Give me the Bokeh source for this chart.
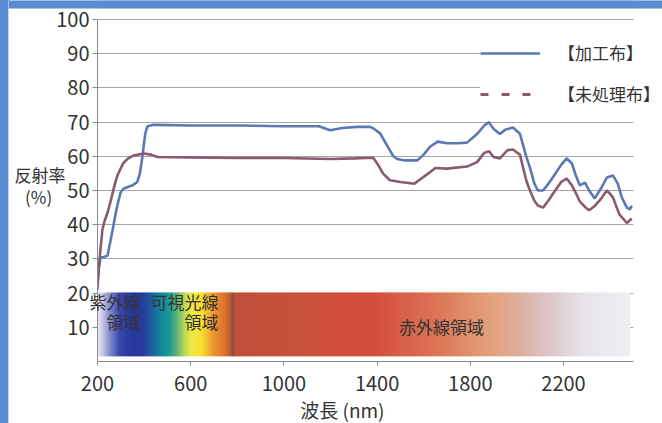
import numpy as np
from bokeh.plotting import figure
from bokeh.models import FixedTicker, Label, Legend, LegendItem, BoxAnnotation
from bokeh.embed import file_html
from bokeh.resources import INLINE

# ---------------- data ----------------
wl_treated = [200, 205, 213, 225, 243, 255, 269, 280, 290, 300, 311, 330, 350, 371, 382, 393,
              400, 406, 415, 440, 600, 800, 1000, 1150, 1199, 1250, 1314, 1370, 1383, 1413,
              1440, 1470, 1486, 1520, 1572, 1600, 1627, 1660, 1700, 1750, 1786, 1829, 1860,
              1880, 1900, 1927, 1950, 1983, 2013, 2040, 2056, 2075, 2090, 2112, 2130, 2154,
              2190, 2214, 2236, 2255, 2270, 2292, 2310, 2334, 2360, 2386, 2412, 2433, 2450,
              2472, 2485, 2493]
refl_treated = [21, 27, 30.5, 30.5, 31, 35, 40, 44, 47, 49.5, 50.5, 51, 51.5, 52.5, 55, 60,
                64, 67, 68.8, 69.2, 69, 69, 68.8, 68.8, 67.6, 68.3, 68.6, 68.6, 68.2, 66.7,
                63.5, 60, 59.2, 58.8, 58.8, 60.5, 62.8, 64.3, 63.8, 63.8, 64, 66.5, 69,
                70, 68, 66.5, 67.8, 68.4, 66.6, 60, 56.7, 52, 50, 50, 51.5, 53.8,
                57.5, 59.4, 57.9, 54, 51.5, 52.3, 50, 47.7, 50.5, 53.8, 54.4, 52, 48,
                45, 44.5, 45.6]

wl_untreated = [200, 208, 213, 221, 230, 243, 255, 264, 275, 286, 300, 311, 330, 354, 397, 430,
                457, 600, 800, 1000, 1200, 1300, 1383, 1400, 1425, 1455, 1500, 1560, 1590,
                1620, 1650, 1700, 1786, 1829, 1860, 1880, 1900, 1927, 1960, 1983, 2013, 2040,
                2056, 2075, 2090, 2112, 2135, 2154, 2190, 2214, 2236, 2255, 2270, 2292, 2310,
                2334, 2360, 2386, 2400, 2412, 2440, 2472, 2493]
refl_untreated = [23, 29, 33, 38.5, 41, 43.5, 46.5, 49, 52, 54.5, 56.5, 58, 59.3, 60.2, 60.8, 60.5,
                  59.8, 59.7, 59.5, 59.5, 59.2, 59.4, 59.6, 58, 55, 53, 52.5, 52, 53.5,
                  55, 56.6, 56.4, 57, 58.3, 61, 61.5, 59.8, 59.4, 61.8, 62, 60.5, 53,
                  50, 47, 45.6, 45, 47, 49, 52.5, 53.5, 51.5, 49, 46.8, 45.2, 44.2,
                  45.5, 47.5, 50, 49, 48, 43, 40.5, 41.8]

series_names = ["【加工布】", "【未処理布】"]
x_ticks = [200, 600, 1000, 1400, 1800, 2200]
y_ticks = [10, 20, 30, 40, 50, 60, 70, 80, 90, 100]
x_bounds = (200, 2500)
y_bounds = (0, 100)

# spectrum band decoration (wavelength stops and colours)
band_nm = [200, 217, 239, 264, 290, 342, 393, 427, 462, 505, 539, 569, 599, 642, 676, 711,
           754, 771, 779, 788, 1071, 1372, 1500, 1672, 1801, 1908, 2015, 2144, 2273, 2487]
band_colors = ["#e8e8f4", "#c8cce8", "#9aa0d6", "#6874c4", "#3a48aa", "#28389c", "#283c98",
               "#1d5aa0", "#10809e", "#1a9a94", "#60b47a", "#b8d858", "#f0e848", "#f8e030",
               "#f4b030", "#ec8c30", "#d86a2c", "#b45838", "#8c4a3c", "#c0503a", "#c8503a",
               "#d44a38", "#d86048", "#dc7858", "#e0946e", "#e2a584", "#dcb0a0", "#dcc8cc",
               "#e8e2ea", "#f0eff5"]
band_bottom, band_top = 1.5, 20.2

region_labels = [("紫外線", 385, 17.5, "right"), ("領域", 385, 11.6, "right"),
                 ("可視光線", 719, 17.5, "right"), ("領域", 719, 11.6, "right"),
                 ("赤外線領域", 1676, 10.2, "center")]

FONT = "Noto Sans CJK JP"
BLUE = "#5a78b4"
MAUVE = "#8a5a72"
TXT = "#333333"
AXIS = "#8a8a8a"
FRAME_BLUE = "#5b8bd0"

# frame fills the whole canvas; axes are pinned at x=200 / y=0
p = figure(width=654, height=423, x_range=(-181.97, 2624.9), y_range=(-18.13, 105.56),
           output_backend="svg", toolbar_location=None, min_border=0)
p.background_fill_color = "white"
p.border_fill_color = "white"
p.outline_line_color = None

p.xgrid.visible = False
p.ygrid.ticker = FixedTicker(ticks=y_ticks)
p.ygrid.grid_line_color = "#a4a4a4"
p.ygrid.grid_line_width = 1

for ax in (p.xaxis[0], p.yaxis[0]):
    ax.axis_line_color = AXIS
    ax.major_tick_line_color = AXIS
    ax.minor_tick_line_color = None
    ax.major_tick_in = 0
    ax.major_label_text_font = FONT
    ax.major_label_text_font_size = "20px"
    ax.major_label_text_color = TXT

p.xaxis.ticker = FixedTicker(ticks=x_ticks)
p.xaxis.fixed_location = y_bounds[0]
p.xaxis.bounds = x_bounds
p.xaxis.major_tick_out = 4
p.xaxis.major_label_standoff = 11
p.yaxis.ticker = FixedTicker(ticks=y_ticks)
p.yaxis.fixed_location = x_bounds[0]
p.yaxis.bounds = y_bounds
p.yaxis.major_tick_out = 5
p.yaxis.major_label_standoff = 3

# hide grid lines outside the plotting area
p.add_layout(BoxAnnotation(right=x_bounds[0], fill_color="white", fill_alpha=1,
                           line_color=None, level="glyph"))
p.add_layout(BoxAnnotation(left=x_bounds[1], fill_color="white", fill_alpha=1,
                           line_color=None, level="glyph"))
# blue scan border along the top edge
p.add_layout(BoxAnnotation(bottom=103.22, fill_color=FRAME_BLUE, fill_alpha=1,
                           line_color=None, level="overlay"))

# spectrum band as an RGBA image
ncol = 540
xs = np.linspace(band_nm[0], band_nm[-1], ncol)
rgb = np.array([[int(c[i:i + 2], 16) for i in (1, 3, 5)] for c in band_colors], dtype=float)
img = np.empty((4, ncol), dtype=np.uint32)
view = img.view(dtype=np.uint8).reshape((4, ncol, 4))
for k in range(3):
    view[:, :, k] = np.interp(xs, band_nm, rgb[:, k]).astype(np.uint8)[None, :]
view[:, :, 3] = 255
p.image_rgba(image=[img], x=band_nm[0], y=band_bottom,
             dw=band_nm[-1] - band_nm[0], dh=band_top - band_bottom)

r_treated = p.line(wl_treated, refl_treated, line_color=BLUE, line_width=2.6)
r_untreated = p.line(wl_untreated, refl_untreated, line_color=MAUVE, line_width=2.6)
r_legend_dash = p.line(x=np.array([np.nan]), y=np.array([np.nan]), line_color=MAUVE,
                       line_width=3, line_dash="8 13")

legend = Legend(items=[LegendItem(label=series_names[0], renderers=[r_treated]),
                       LegendItem(label=series_names[1], renderers=[r_legend_dash])],
                location=(472, 317), glyph_width=60, glyph_height=20, label_height=20,
                label_standoff=18, spacing=16, padding=7, margin=0,
                label_text_font=FONT, label_text_font_size="17px", label_text_color=TXT,
                background_fill_color="white", background_fill_alpha=1.0,
                border_line_color=None)
p.add_layout(legend)

for txt, x, y, align in region_labels:
    p.add_layout(Label(x=x, y=y, text=txt, text_align=align, text_baseline="middle",
                       text_font=FONT, text_font_size="17px", text_color=TXT))

p.add_layout(Label(x=1251, y=-14, text="波長 (nm)", text_align="center", text_baseline="middle",
                   text_font=FONT, text_font_size="19px", text_color=TXT))
p.add_layout(Label(x=-47, y=54.7, text="反射率", text_align="center", text_baseline="middle",
                   text_font=FONT, text_font_size="17px", text_color=TXT))
p.add_layout(Label(x=-53, y=48.2, text="(%)", text_align="center", text_baseline="middle",
                   text_font=FONT, text_font_size="17px", text_color=TXT))

template = ("{% block postamble %}<style>html,body{margin:0 !important;overflow:hidden;}"
            "body{padding:0 0 0 8px !important;box-sizing:border-box;background:#5b8bd0;}"
            "</style>{% endblock %}")
open("out.html", "w").write(file_html(p, INLINE, template=template))
